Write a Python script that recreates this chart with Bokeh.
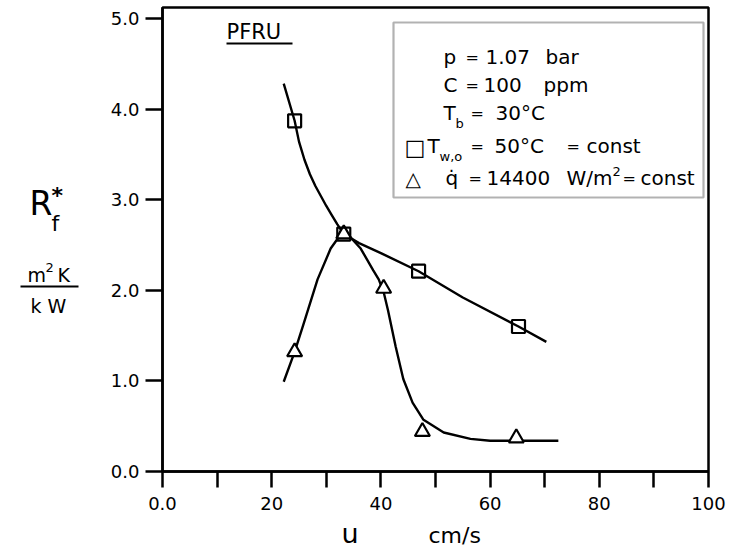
from bokeh.plotting import figure
from bokeh.models import Label, BoxAnnotation, FixedTicker, Range1d
from bokeh.layouts import row, column
from bokeh.embed import file_html
from bokeh.resources import INLINE

# ---- data ----
sq_u = [24.2, 33.2, 46.9, 65.2]
sq_r = [3.87, 2.62, 2.21, 1.60]

tr_u = [24.2, 33.2, 40.5, 47.6, 64.8]
tr_r = [1.32, 2.62, 2.02, 0.44, 0.37]

sq_curve_u = [22.2, 24.2, 25.0, 26.0, 27.0, 28.0, 29.0, 30.0, 31.0, 32.0, 33.2,
              36.0, 40.0, 46.9, 55.0, 65.2, 70.3]
sq_curve_r = [4.28, 3.87, 3.64, 3.44, 3.28, 3.15, 3.04, 2.93, 2.83, 2.73, 2.62,
              2.52, 2.41, 2.21, 1.92, 1.60, 1.43]

tr_curve_u = [22.2, 24.2, 25.8, 28.4, 30.8, 32.2, 33.2, 34.5, 36.3, 38.6, 39.6, 40.5, 41.3,
              42.7, 44.1, 45.8, 47.8, 51.5, 56.4, 60.0, 65.0, 72.5]
tr_curve_r = [0.99, 1.32, 1.62, 2.12, 2.46, 2.58, 2.63, 2.58, 2.46, 2.22, 2.12, 1.98, 1.78,
              1.38, 1.02, 0.76, 0.57, 0.43, 0.36, 0.34, 0.34, 0.34]

x_ticks = [0, 20, 40, 60, 80, 100]
x_tick_labels = ["0.0", "20", "40", "60", "80", "100"]
x_minor_ticks = [10, 30, 50, 70, 90]
y_ticks = [0, 1, 2, 3, 4, 5]
y_tick_labels = ["0.0", "1.0", "2.0", "3.0", "4.0", "5.0"]

FONT = "DejaVu Sans"
W, H = 732, 548
LW = 100                 # width of the left label strip
BH = 33                  # height of the bottom label strip
FL, FR, FT, FB = 162, 708, 7, 471      # main frame edges in page pixels
Y1 = 5.12


def base_off(size):
    return 0.42 * size


def make_label(text, x, y, size, x_units="data", y_units="data", bold=False):
    return Label(x=x, y=y, x_units=x_units, y_units=y_units,
                 text=text, text_font=FONT, text_font_size=f"{size}px",
                 text_font_style="bold" if bold else "normal",
                 text_color="black", text_baseline="alphabetic", text_align="left")


def strip(width, height, xr, yr):
    """A figure whose frame fills it; its ranges are given in page pixels."""
    f = figure(width=width, height=height, output_backend="svg", toolbar_location=None,
               x_range=Range1d(*xr), y_range=Range1d(*yr),
               x_axis_type=None, y_axis_type=None,
               min_border_left=0, min_border_right=0, min_border_top=0, min_border_bottom=0)
    f.grid.visible = False
    f.outline_line_color = None
    f.background_fill_color = "white"
    f.border_fill_color = "white"
    return f


# ---------------- main plot ----------------
p = figure(width=W - LW, height=H - BH, output_backend="svg", toolbar_location=None,
           x_range=Range1d(0, 100), y_range=Range1d(0, Y1),
           min_border_left=FL - LW, min_border_right=W - FR, min_border_top=FT,
           min_border_bottom=(H - BH) - FB)
p.grid.visible = False
p.outline_line_color = "black"
p.outline_line_width = 2.5
p.background_fill_color = "white"
p.border_fill_color = "white"

for ax in (p.xaxis[0], p.yaxis[0]):
    ax.axis_line_width = 2.5
    ax.axis_line_color = "black"
    ax.major_tick_line_width = 2.5
    ax.major_tick_line_color = "black"
    ax.minor_tick_line_width = 2.5
    ax.minor_tick_line_color = "black"
    ax.major_tick_in = 0
    ax.minor_tick_in = 0
    ax.major_label_text_font = FONT
    ax.major_label_text_font_size = "18px"
    ax.major_label_text_color = "black"

p.xaxis.ticker = FixedTicker(ticks=x_ticks, minor_ticks=x_minor_ticks)
p.xaxis.major_label_overrides = {t: l for t, l in zip(x_ticks, x_tick_labels)}
p.xaxis.major_tick_out = 16
p.xaxis.minor_tick_out = 16
p.xaxis.major_label_standoff = 9

p.yaxis.ticker = FixedTicker(ticks=y_ticks, minor_ticks=[])
p.yaxis.major_label_overrides = {t: l for t, l in zip(y_ticks, y_tick_labels)}
p.yaxis.major_tick_out = 17
p.yaxis.major_label_standoff = 6

p.line(sq_curve_u, sq_curve_r, line_color="black", line_width=2.4)
p.line(tr_curve_u, tr_curve_r, line_color="black", line_width=2.4)
p.scatter(tr_u, tr_r, marker="triangle", size=15, fill_color="white",
          line_color="black", line_width=2.2)
p.scatter(sq_u, sq_r, marker="square", size=13, fill_color=None,
          line_color="black", line_width=2.2)


def lab(text, px, py, size, bold=False):
    # screen units of an annotation are measured from the frame's lower-left corner
    p.add_layout(make_label(text, px - FL, FB - py + base_off(size), size,
                            "screen", "screen", bold))


def box(px0, px1, py0, py1, **kw):
    p.add_layout(BoxAnnotation(left=px0 - FL, right=px1 - FL, top=FB - py0, bottom=FB - py1,
                               left_units="screen", right_units="screen",
                               top_units="screen", bottom_units="screen", **kw))


lab("PFRU", 226, 40, 21)
box(226, 292, 42, 44, fill_color="black", fill_alpha=1, line_alpha=0)

box(393, 703, 22, 197, fill_alpha=0, line_color="black", line_width=2.2)

LS, ES, SS = 20, 16, 13
lab("p", 443, 65, LS); lab("=", 465, 64, ES); lab("1.07", 485, 65, LS); lab("bar", 545, 65, LS)
lab("C", 443, 93, LS); lab("=", 465, 92, ES); lab("100", 483, 93, LS); lab("ppm", 543, 93, LS)
lab("T", 443, 121, LS); lab("b", 455, 128, SS); lab("=", 470, 120, ES); lab("30°C", 495, 121, LS)
lab("□", 404, 156, 22); lab("T", 427, 154, LS); lab("w,o", 439, 161, SS)
lab("=", 470, 153, ES); lab("50°C", 494, 154, LS); lab("=", 566, 153, ES); lab("const", 586, 154, LS)
lab("△", 405, 187, 20); lab("q̇", 445, 186, LS); lab("=", 468, 185, ES); lab("14400", 486, 186, LS)
lab("W/m", 566, 186, LS); lab("2", 612, 176, SS); lab("=", 622, 185, ES); lab("const", 640, 186, LS)

# ---------------- left strip: R_f^* and m^2 K / kW ----------------
left = strip(LW, H, (0, LW), (H, 0))


def llab(text, px, py, size, bold=False):
    left.add_layout(make_label(text, px, py - base_off(size), size, bold=bold))


llab("R", 29, 217, 33)
llab("f", 51, 232, 22)
llab("*", 51, 204, 22, bold=True)
llab("m", 27, 282, 19); llab("2", 45, 272, 13); llab("K", 57, 282, 19)
left.add_layout(BoxAnnotation(left=20, right=78, top=285, bottom=287,
                              fill_color="black", fill_alpha=1, line_alpha=0))
llab("k W", 30, 313, 19)

# ---------------- bottom strip: u  cm/s ----------------
# its frame is aligned by the column layout with the main frame (FL..FR)
bottom = strip(W - LW, BH, (FL, FR), (H, H - BH))


def blab(text, px, py, size):
    bottom.add_layout(make_label(text, px, py - base_off(size), size))


blab("u", 341, 544, 27)
blab("cm/s", 428, 544, 22)

layout = row(left, column(p, bottom, spacing=0), spacing=0)
open("out.html", "w").write(file_html(layout, INLINE))
